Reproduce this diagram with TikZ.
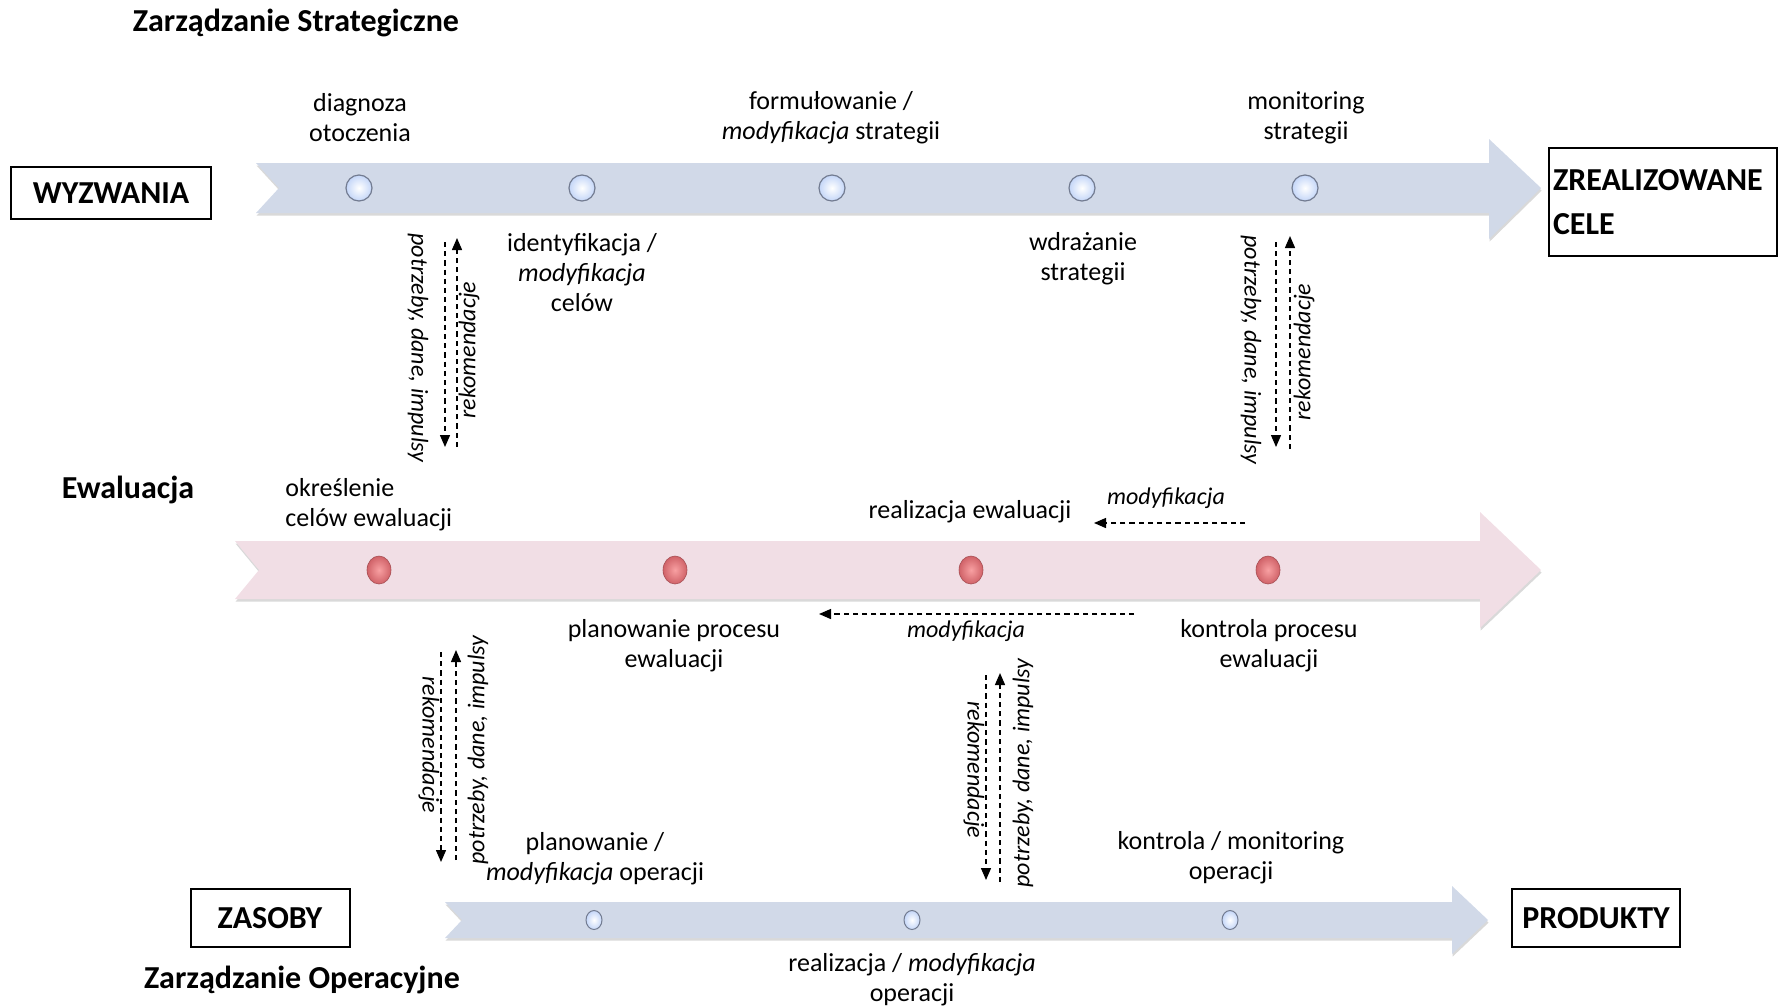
\documentclass[tikz,border=0pt]{standalone}
\usepackage{fontspec}
\setmainfont{Carlito}
\usetikzlibrary{arrows.meta,shadows,shapes.geometric}

\definecolor{stratfill}{RGB}{209,217,232}
\definecolor{evalfill}{RGB}{241,222,229}
\definecolor{dotblue}{RGB}{196,214,248}
\definecolor{dotrim}{RGB}{115,124,145}
\definecolor{dotred}{RGB}{208,98,104}
\definecolor{dotredlt}{RGB}{248,160,162}

\tikzset{
  lbl/.style={align=center, inner sep=0pt, font=\fontsize{13}{15}\selectfont},
  side/.style={inner sep=0pt, font=\itshape\fontsize{12}{14}\selectfont},
  ttl/.style={inner sep=0pt, font=\bfseries\fontsize{16}{19}\selectfont},
  endbox/.style={draw, line width=1pt, inner sep=2pt, font=\bfseries\fontsize{16}{22}\selectfont},
  band/.style={drop shadow={shadow xshift=0.3pt, shadow yshift=-1.3pt, opacity=0.3}},
  sdot/.style={circle, minimum size=13pt, inner sep=0pt, draw=dotrim, line width=0.6pt, inner color=white, outer color=dotblue},
  odot/.style={ellipse, minimum width=8pt, minimum height=9.5pt, inner sep=0pt, draw=dotrim, line width=0.5pt, inner color=white, outer color=dotblue},
  edot/.style={ellipse, minimum width=12pt, minimum height=14pt, inner sep=0pt, draw=dotred!80!black, line width=0.3pt, inner color=dotredlt, outer color=dotred},
  fb/.style={line width=0.7pt, dash pattern=on 2.6pt off 2pt, -{Triangle[length=6pt,width=5pt]}}
}

\begin{document}
\begin{tikzpicture}[x=0.5pt, y=-0.5pt]
\useasboundingbox (0,0) rectangle (1783,1007);

% bands
\fill[stratfill, band] (256,163) -- (1489,163) -- (1489,139) -- (1541,188) -- (1489,239) -- (1489,213) -- (256,213) -- (279,188) -- cycle;
\fill[evalfill, band] (235,541) -- (1480,541) -- (1480,512) -- (1541,570) -- (1480,628) -- (1480,599) -- (235,599) -- (259,570) -- cycle;
\fill[stratfill, band] (445,902) -- (1452,902) -- (1452,886) -- (1488,920) -- (1452,954) -- (1452,938) -- (445,938) -- (462,920) -- cycle;

% titles and end boxes
\node[ttl] (strat) at (296,23) {Zarządzanie Strategiczne};
\node[ttl] (ewal) at (128,490) {Ewaluacja};
\node[ttl] (oper) at (302,980) {Zarządzanie Operacyjne};
\node[endbox, minimum width=100pt, minimum height=26pt] (wyzw) at (111,193) {WYZWANIA};
\node[endbox, text width=110pt, minimum height=54pt, align=left] (cele) at (1663,202) {ZREALIZOWANE\\CELE};
\node[endbox, minimum width=79.5pt, minimum height=29pt] (zasoby) at (270,918) {ZASOBY};
\node[endbox, minimum width=84pt, minimum height=29pt] (prod) at (1596,918) {PRODUKTY};

% dots
\foreach \x [count=\i] in {359,582,832,1082,1305}
  \node[sdot] (s\i) at (\x,188) {};
\foreach \x [count=\i] in {379,675,971,1268}
  \node[edot] (e\i) at (\x,570) {};
\foreach \x [count=\i] in {594,912,1230}
  \node[odot] (o\i) at (\x,920) {};

% strategic labels
\node[lbl] (diag) at (360,118) {diagnoza\\otoczenia};
\node[lbl] (form) at (831,118) {formułowanie /\\\textit{modyfikacja} strategii};
\node[lbl] (moni) at (1306,118) {monitoring\\strategii};
\node[lbl] (iden) at (582,273) {identyfikacja /\\\textit{modyfikacja}\\celów};
\node[lbl] (wdra) at (1083,259) {wdrażanie\\strategii};

% evaluation labels
\node[lbl, anchor=west, align=left] (okre) at (285,505) {określenie\\celów ewaluacji};
\node[lbl] (real) at (970,512) {realizacja ewaluacji};
\node[lbl] (plan) at (674,646) {planowanie procesu\\ewaluacji};
\node[lbl] (kont) at (1269,646) {kontrola procesu\\ewaluacji};
\node[side] (mod1) at (1166,498) {modyfikacja};
\node[side] (mod2) at (966,631) {modyfikacja};

% operational labels
\node[lbl] (plop) at (595,859) {planowanie /\\\textit{modyfikacja} operacji};
\node[lbl] (kop) at (1231,858) {kontrola / monitoring\\operacji};
\node[lbl] (rop) at (912,980) {realizacja / \textit{modyfikacja}\\operacji};

% feedback arrows
\coordinate (a1) at (445,242); \coordinate (b1) at (445,447);
\coordinate (c1) at (457,447); \coordinate (d1) at (457,238);
\coordinate (a3) at (1276,242); \coordinate (b3) at (1276,447);
\coordinate (c3) at (1290,449); \coordinate (d3) at (1290,236);
\coordinate (a2) at (441,652); \coordinate (b2) at (441,862);
\coordinate (c2) at (456,860); \coordinate (d2) at (456,650);
\coordinate (a4) at (986,675); \coordinate (b4) at (986,880);
\coordinate (c4) at (1000,882); \coordinate (d4) at (1000,673);
\coordinate (m1) at (1245,523); \coordinate (n1) at (1094,523);
\coordinate (m2) at (1134,614); \coordinate (n2) at (819,614);
\draw[fb] (a1) -- (b1);
\draw[fb] (c1) -- (d1);
\draw[fb] (a3) -- (b3);
\draw[fb] (c3) -- (d3);
\draw[fb] (a2) -- (b2);
\draw[fb] (c2) -- (d2);
\draw[fb] (a4) -- (b4);
\draw[fb] (c4) -- (d4);
\draw[fb] (m1) -- (n1);
\draw[fb] (m2) -- (n2);

\node[side, rotate=-90] (pot1) at (418,348) {potrzeby, dane, impulsy};
\node[side, rotate=90] (rek1) at (469,350) {rekomendacje};
\node[side, rotate=-90] (pot3) at (1251,350) {potrzeby, dane, impulsy};
\node[side, rotate=90] (rek3) at (1304,352) {rekomendacje};
\node[side, rotate=-90] (rek2) at (429,745) {rekomendacje};
\node[side, rotate=90] (pot2) at (478,750) {potrzeby, dane, impulsy};
\node[side, rotate=-90] (rek4) at (974,770) {rekomendacje};
\node[side, rotate=90] (pot4) at (1023,773) {potrzeby, dane, impulsy};
\end{tikzpicture}
\end{document}
